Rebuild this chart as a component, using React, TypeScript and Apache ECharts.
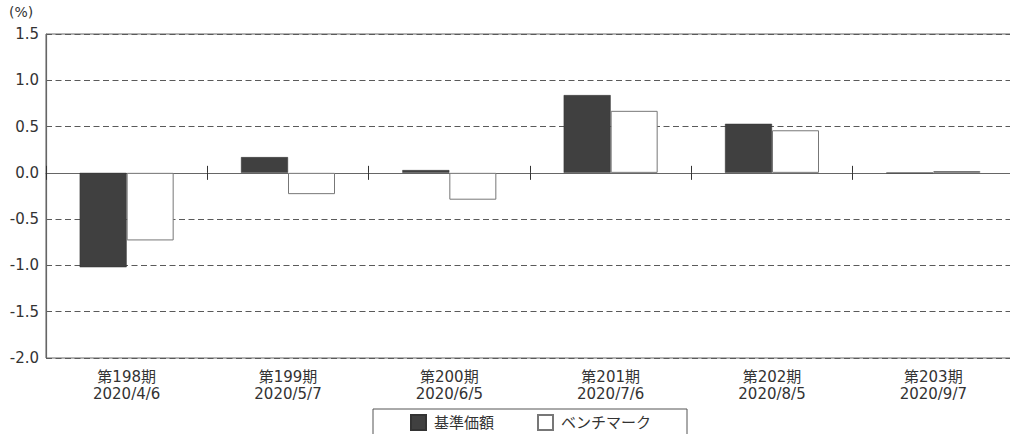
import React, { useEffect, useRef } from "react";
import * as echarts from "echarts";

const categories = [
  "第198期\n2020/4/6",
  "第199期\n2020/5/7",
  "第200期\n2020/6/5",
  "第201期\n2020/7/6",
  "第202期\n2020/8/5",
  "第203期\n2020/9/7",
];
const fundValues = [-1.02, 0.17, 0.03, 0.84, 0.53, 0.0];
const benchmarkValues = [-0.73, -0.23, -0.29, 0.67, 0.46, 0.02];
const seriesNames = ["基準価額", "ベンチマーク"];
const yMin = -2.0;
const yMax = 1.5;
const yStep = 0.5;

const FONT = "'DejaVu Sans', 'Noto Sans CJK JP', sans-serif";
const TEXT = "#333333";
const LINE = "#666666";

export default function App() {
  const ref = useRef<HTMLDivElement>(null);
  useEffect(() => {
    if (!ref.current) return;
    const chart = echarts.init(ref.current, undefined, { renderer: "svg" });
    const option: any = {
      animation: false,
      backgroundColor: "#ffffff",
      textStyle: { fontFamily: FONT },
      grid: {
        left: 46,
        top: 34,
        right: -4,
        height: 324,
        show: true,
        borderColor: LINE,
        borderWidth: 1,
        backgroundColor: "transparent",
        containLabel: false,
        outerBoundsMode: "none",
      },
      legend: [
        {
          data: [seriesNames[0]],
          left: 410,
          top: 414,
          padding: 0,
          itemWidth: 15,
          itemHeight: 15,
          icon: "rect",
          textStyle: { fontFamily: FONT, fontSize: 15, color: TEXT, padding: [0, 0, 0, 3] },
          selectedMode: false,
        },
        {
          data: [seriesNames[1]],
          left: 537,
          top: 414,
          padding: 0,
          itemWidth: 15,
          itemHeight: 15,
          icon: "rect",
          textStyle: { fontFamily: FONT, fontSize: 15, color: TEXT, padding: [0, 0, 0, 3] },
          selectedMode: false,
        },
      ],
      graphic: [
        {
          type: "text",
          left: 9,
          top: 5,
          style: { text: "(%)", fontFamily: FONT, fontSize: 14, fill: TEXT },
        },
        {
          type: "rect",
          shape: { x: 373, y: 409, width: 314, height: 40 },
          style: { fill: "none", stroke: "#555555", lineWidth: 1 },
          z: 100,
        },
      ],
      xAxis: [
        {
          type: "category",
          data: categories,
          position: "bottom",
          axisLine: { show: false, onZero: false },
          axisTick: { show: false },
          axisLabel: {
            fontFamily: FONT,
            fontSize: 15,
            color: TEXT,
            lineHeight: 17,
            margin: 10,
          },
          splitLine: { show: false },
        },
        {
          type: "category",
          data: categories,
          position: "top",
          axisLine: { show: true, onZero: true, onZeroAxisIndex: 0, lineStyle: { color: LINE, width: 1.2 } },
          axisTick: { show: true, length: 7, lineStyle: { color: "#333", width: 1 } },
          axisLabel: { show: false },
          splitLine: { show: false },
        },
        {
          type: "category",
          data: categories,
          position: "bottom",
          axisLine: { show: false, onZero: true, onZeroAxisIndex: 1 },
          axisTick: { show: true, length: 7, lineStyle: { color: "#333", width: 1 } },
          axisLabel: { show: false },
          splitLine: { show: false },
        },
      ],
      yAxis: [
        {
          type: "value",
          min: yMin,
          max: yMax,
          interval: yStep,
          axisLine: { show: true, lineStyle: { color: LINE, width: 1.2 } },
          axisTick: { show: false },
          axisLabel: {
            fontFamily: FONT,
            fontSize: 15,
            color: TEXT,
            margin: 7,
            formatter: (v: number) => v.toFixed(1),
          },
          splitLine: {
            show: true,
            lineStyle: { color: "#5a5a5a", width: 1, type: [6, 3.5] },
          },
        },
        {
          type: "value",
          min: yMin,
          max: yMax,
          interval: yStep,
          position: "right",
          axisLine: { show: false },
          axisTick: { show: false },
          axisLabel: { show: false },
          splitLine: { show: false },
        },
      ],
      series: [
        {
          name: seriesNames[0],
          type: "bar",
          data: fundValues,
          barWidth: 47,
          barGap: "0%",
          itemStyle: { color: "#404040", borderColor: "#333333", borderWidth: 0.5 },
          z: 3,
        },
        {
          name: seriesNames[1],
          type: "bar",
          data: benchmarkValues,
          barWidth: 47,
          barGap: "0%",
          itemStyle: { color: "#ffffff", borderColor: "#777777", borderWidth: 1 },
          z: 3,
        },
      ],
    };
    chart.setOption(option);
    return () => chart.dispose();
  }, []);
  return (
    <div
      ref={ref}
      style={{ position: "fixed", left: 0, top: 0, width: 1010, height: 434, background: "#fff" }}
    />
  );
}
